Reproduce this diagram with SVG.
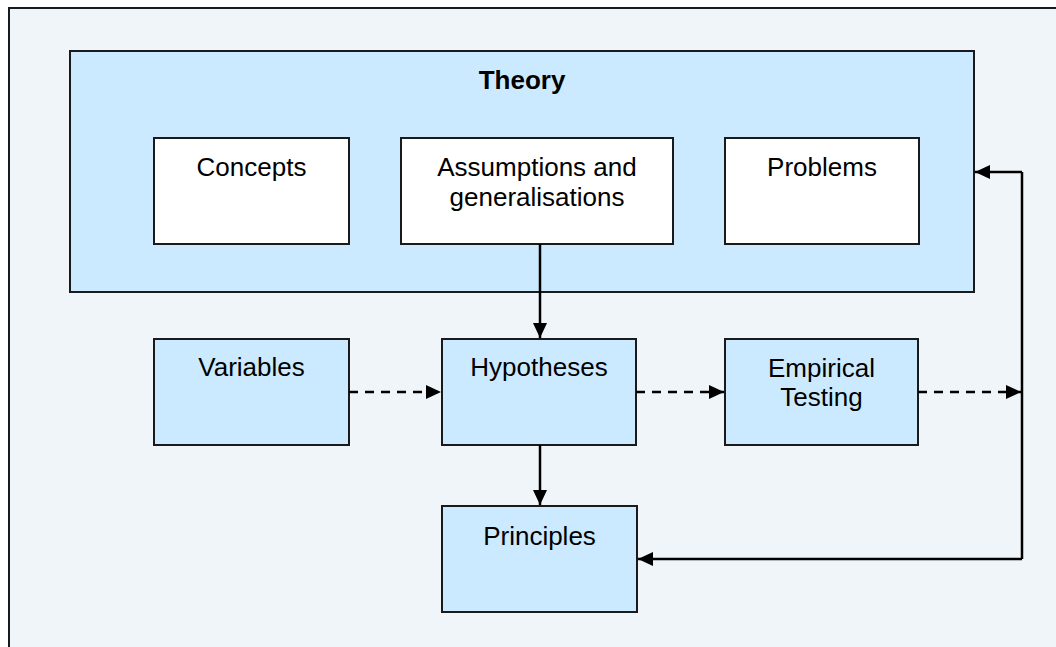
<svg xmlns="http://www.w3.org/2000/svg" width="1056" height="647" viewBox="0 0 1056 647">
  <style>
    .box { fill: #cceaff; stroke: #1a1a1a; stroke-width: 2; }
    .inner { fill: #ffffff; stroke: #1a1a1a; stroke-width: 2; }
    .lbl { font-family: "Liberation Sans", Arial, sans-serif; font-size: 26px; fill: #000; text-anchor: middle; }
    .title { font-weight: bold; }
    .link { fill: none; stroke: #000; stroke-width: 2.5; }
    .dash { stroke-dasharray: 9 7; }
  </style>
  <defs>
    <marker id="head" viewBox="0 0 15 14" refX="15" refY="7" markerWidth="15" markerHeight="14" markerUnits="userSpaceOnUse" orient="auto">
      <path d="M0,0 L15,7 L0,14 Z" fill="#000"/>
    </marker>
  </defs>

  <!-- page background -->
  <rect x="0" y="0" width="1056" height="647" fill="#ffffff"/>
  <rect x="9" y="8" width="1060" height="660" fill="#eff5f9" stroke="#1a1a1a" stroke-width="2"/>

  <!-- Theory container -->
  <g id="theory">
    <rect class="box" x="70" y="51" width="904" height="241"/>
    <text class="lbl title" x="522" y="89">Theory</text>
  </g>

  <g id="concepts">
    <rect class="inner" x="154" y="138" width="195" height="106"/>
    <text class="lbl" x="251.5" y="176">Concepts</text>
  </g>

  <g id="assumptions">
    <rect class="inner" x="401" y="138" width="272" height="106"/>
    <text class="lbl" x="537" y="176">Assumptions and</text>
    <text class="lbl" x="537" y="205.5">generalisations</text>
  </g>

  <g id="problems">
    <rect class="inner" x="725" y="138" width="194" height="106"/>
    <text class="lbl" x="822" y="176">Problems</text>
  </g>

  <g id="variables">
    <rect class="box" x="154" y="339" width="195" height="106"/>
    <text class="lbl" x="251.5" y="376">Variables</text>
  </g>

  <g id="hypotheses">
    <rect class="box" x="442" y="339" width="194" height="106"/>
    <text class="lbl" x="539" y="376">Hypotheses</text>
  </g>

  <g id="empirical">
    <rect class="box" x="725" y="339" width="193" height="106"/>
    <text class="lbl" x="821.5" y="376.5">Empirical</text>
    <text class="lbl" x="821.5" y="406">Testing</text>
  </g>

  <g id="principles">
    <rect class="box" x="442" y="506" width="195" height="106"/>
    <text class="lbl" x="539.5" y="545">Principles</text>
  </g>

  <!-- connectors -->
  <g id="connectors">
    <line class="link" x1="540" y1="244" x2="540" y2="338" marker-end="url(#head)"/>
    <line class="link" x1="540" y1="445" x2="540" y2="505" marker-end="url(#head)"/>
    <line class="link dash" x1="349" y1="392" x2="441" y2="392" marker-end="url(#head)"/>
    <line class="link dash" x1="636" y1="392" x2="724" y2="392" marker-end="url(#head)"/>
    <line class="link dash" x1="918" y1="392" x2="1021" y2="392" marker-end="url(#head)"/>
    <line class="link" x1="1022" y1="172" x2="1022" y2="559"/>
    <polyline class="link" points="1022,172 975,172" marker-end="url(#head)"/>
    <polyline class="link" points="1022,559 638,559" marker-end="url(#head)"/>
  </g>
</svg>
